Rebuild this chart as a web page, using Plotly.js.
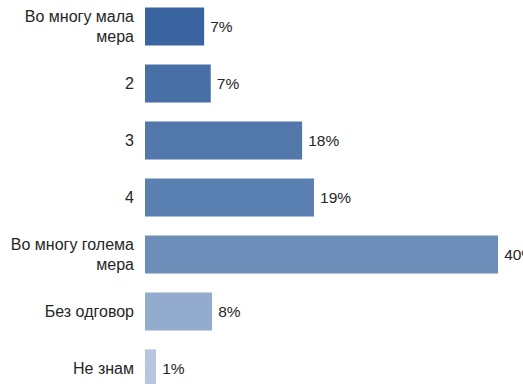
<!DOCTYPE html>
<html>
<head>
<meta charset="utf-8">
<script src="https://cdn.plot.ly/plotly-3.0.1.min.js"></script>
<style>html,body{margin:0;padding:0;background:#fff;}#chart{width:523px;height:384px;}</style>
</head>
<body>
<div id="chart"></div>
<script>
const categories = ["Во многу мала<br>мера", "2", "3", "4", "Во многу голема<br>мера", "Без одговор", "Не знам"];
const values = [6.7, 7.45, 17.8, 19.15, 40.0, 7.6, 1.25];
const labels = ["7%", "7%", "18%", "19%", "40%", "8%", "1%"];
const colors = ["#3a64a0", "#4870a7", "#5177ab", "#5a7fb1", "#6d8eb8", "#93abcc", "#b5c6de"];

const trace = {
  type: "bar",
  orientation: "h",
  y: categories,
  x: values,
  text: labels,
  texttemplate: "\u2009%{text}",
  textposition: "outside",
  constraintext: "none",
  cliponaxis: false,
  textfont: {family: "Liberation Sans, Arial, sans-serif", size: 15.5, color: "#262626"},
  marker: {color: colors},
  hoverinfo: "none"
};

const layout = {
  width: 523, height: 384,
  margin: {l: 145, r: 0, t: 0, b: 0, pad: 0},
  paper_bgcolor: "#fff", plot_bgcolor: "#fff",
  showlegend: false,
  bargap: 0.33,
  font: {family: "Liberation Sans, Arial, sans-serif", size: 15.5, color: "#262626"},
  xaxis: {range: [0, 42.83], visible: false, fixedrange: true},
  yaxis: {
    type: "category",
    categoryorder: "array",
    categoryarray: categories,
    range: [6.272, -0.465],
    showgrid: false, zeroline: false, showline: false,
    ticks: "", ticklabelstandoff: 10,
    tickfont: {family: "Liberation Sans, Arial, sans-serif", size: 16, color: "#262626"}
  }
};

Plotly.newPlot("chart", [trace], layout, {displayModeBar: false, staticPlot: true});
</script>
</body>
</html>
